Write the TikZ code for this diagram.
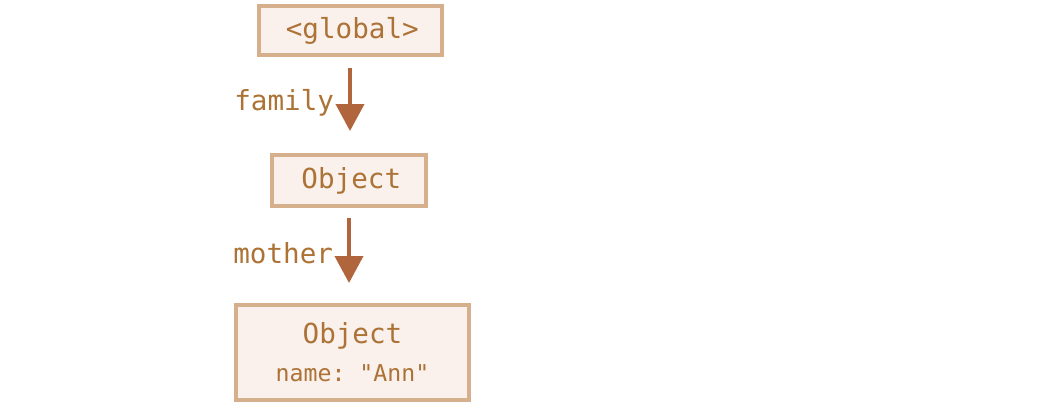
\documentclass[tikz,border=0pt]{standalone}
\usepackage{fontspec}
\setmonofont{DejaVu Sans Mono}
\usetikzlibrary{positioning}
\usetikzlibrary{arrows.meta}

\definecolor{boxfill}{HTML}{FAF1EC}
\definecolor{boxline}{HTML}{D6B08C}
\definecolor{labelcol}{HTML}{AC7236}
\definecolor{arrowcol}{HTML}{B0653C}

\begin{document}
\begin{tikzpicture}[x=0.5pt,y=-0.5pt,->,>={Triangle[width=14pt,length=13.5pt]},
	font=\ttfamily\fontsize{13.8}{16}\selectfont,
	obj node/.style={draw=boxline,fill=boxfill,line width=2pt,text=labelcol,inner sep=0pt}]
	
	\useasboundingbox (0,0) rectangle (1046,418);
	
	\node[obj node, minimum width=91.5pt, minimum height=24.5pt] (global) at (350,30.5) {\,<global>};
	\node[obj node, minimum width=77pt, minimum height=25.5pt] (obj1) at (349,180.5) {\,Object};
	\node[obj node, minimum width=116.5pt, minimum height=47.5pt, align=center] (obj2) at (352.5,352.5)
	{Object\\[3pt]{\fontsize{11.6}{14}\selectfont name: "Ann"}};
	
	\path[draw=arrowcol,fill=arrowcol,line width=2pt,every node/.style={text=labelcol,inner sep=0pt,xshift=-7pt,yshift=1pt}]
	(global) edge[shorten <=5.5pt,shorten >=11pt] node [left] {family} (global |- obj1.north)
	(obj1) edge[shorten <=5pt,shorten >=10pt] node [left] {mother} (obj1 |- obj2.north);
\end{tikzpicture}
\end{document}
